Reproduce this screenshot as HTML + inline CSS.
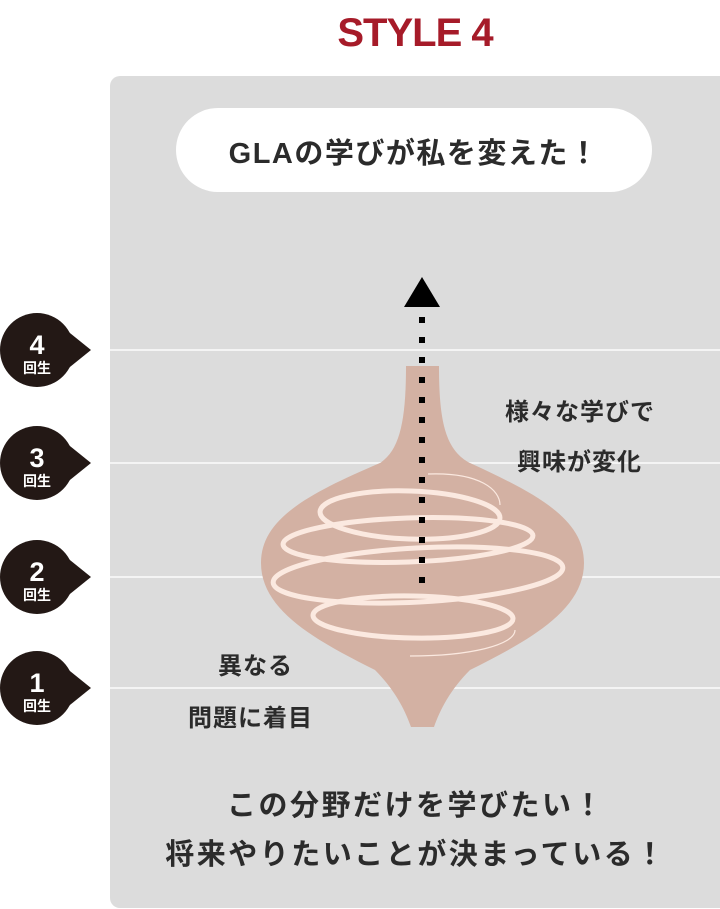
<!DOCTYPE html>
<html><head><meta charset="utf-8"><style>
body{margin:0;width:720px;height:909px;background:#fff;position:relative;overflow:hidden;font-family:"Liberation Sans","Noto Sans CJK JP",sans-serif}
.t{position:absolute;white-space:nowrap;font-weight:bold;color:#2b2b2b}
</style></head><body>
<div class="t" style="left:0;width:830px;text-align:center;top:11px;font-size:40px;color:#a61b29;letter-spacing:-1px">STYLE 4</div>
<div style="position:absolute;left:110px;top:76px;width:610px;height:832px;background:#dcdcdc;border-radius:10px 0 0 10px"></div>
<div style="position:absolute;left:176px;top:108px;width:476px;height:84px;background:#fff;border-radius:42px"></div>
<div class="t" style="left:176px;width:476px;text-align:center;top:130px;font-size:29px;letter-spacing:1.5px">GLAの学びが私を変えた！</div>
<svg style="position:absolute;left:0;top:0" width="720" height="909">
<g stroke="#f4f4f4" stroke-width="2"><line x1="110" y1="350" x2="720" y2="350"/><line x1="110" y1="463" x2="720" y2="463"/><line x1="110" y1="577" x2="720" y2="577"/><line x1="110" y1="688" x2="720" y2="688"/></g>
<path d="M406 366 L439 366 C439 420 445 450 470 463 C540 495 584 520 584 563 C584 610 530 640 470 670 C450 690 440 710 434 727 L411 727 C405 710 395 690 375 670 C315 640 261 610 261 563 C261 520 305 495 380 463 C400 450 406 420 406 366 Z" fill="#d3b1a3"/>
<g fill="none" stroke="#fbe9e0" stroke-width="5">
<ellipse cx="410" cy="515" rx="90" ry="24" transform="rotate(2 410 515)"/>
<ellipse cx="408" cy="540" rx="125" ry="22" transform="rotate(-2 408 540)"/>
<ellipse cx="418" cy="575" rx="145" ry="27" transform="rotate(-3 418 575)"/>
<ellipse cx="413" cy="617" rx="100" ry="21" transform="rotate(1 413 617)"/>
</g>
<g fill="none" stroke="#fbe9e0" stroke-width="1.2"><path d="M428 474 C480 472 500 490 500 505"/><path d="M410 656 C470 656 515 645 515 630"/></g>
<line x1="422" y1="317" x2="422" y2="585" stroke="#000" stroke-width="6" stroke-dasharray="6 14"/>
<polygon points="422,277 404,307 440,307" fill="#000"/>
<g fill="#231815">
<circle cx="37" cy="350" r="37"/><polygon points="60,325 91,350 60,375"/>
<circle cx="37" cy="463" r="37"/><polygon points="60,438 91,463 60,488"/>
<circle cx="37" cy="577" r="37"/><polygon points="60,552 91,577 60,602"/>
<circle cx="37" cy="688" r="37"/><polygon points="60,663 91,688 60,713"/>
</g>
<g fill="#fff" font-family="Liberation Sans, Noto Sans CJK JP, sans-serif" font-weight="bold" text-anchor="middle">
<text x="37" y="354" font-size="27">4</text><text x="37" y="373" font-size="14">回生</text>
<text x="37" y="467" font-size="27">3</text><text x="37" y="486" font-size="14">回生</text>
<text x="37" y="581" font-size="27">2</text><text x="37" y="600" font-size="14">回生</text>
<text x="37" y="692" font-size="27">1</text><text x="37" y="711" font-size="14">回生</text>
</g>
</svg>
<div class="t" style="left:505px;top:392px;font-size:24px;letter-spacing:1px">様々な学びで</div>
<div class="t" style="left:517px;top:442px;font-size:24px;letter-spacing:1px">興味が変化</div>
<div class="t" style="left:218px;top:646px;font-size:24px;letter-spacing:1px">異なる</div>
<div class="t" style="left:188px;top:698px;font-size:24px;letter-spacing:1px">問題に着目</div>
<div class="t" style="left:110px;width:610px;text-align:center;top:782px;font-size:29px;letter-spacing:2.5px;text-indent:2px">この分野だけを学びたい！</div>
<div class="t" style="left:110px;width:610px;text-align:center;top:831px;font-size:29px;letter-spacing:2.5px;text-indent:2px">将来やりたいことが決まっている！</div>
</body></html>
